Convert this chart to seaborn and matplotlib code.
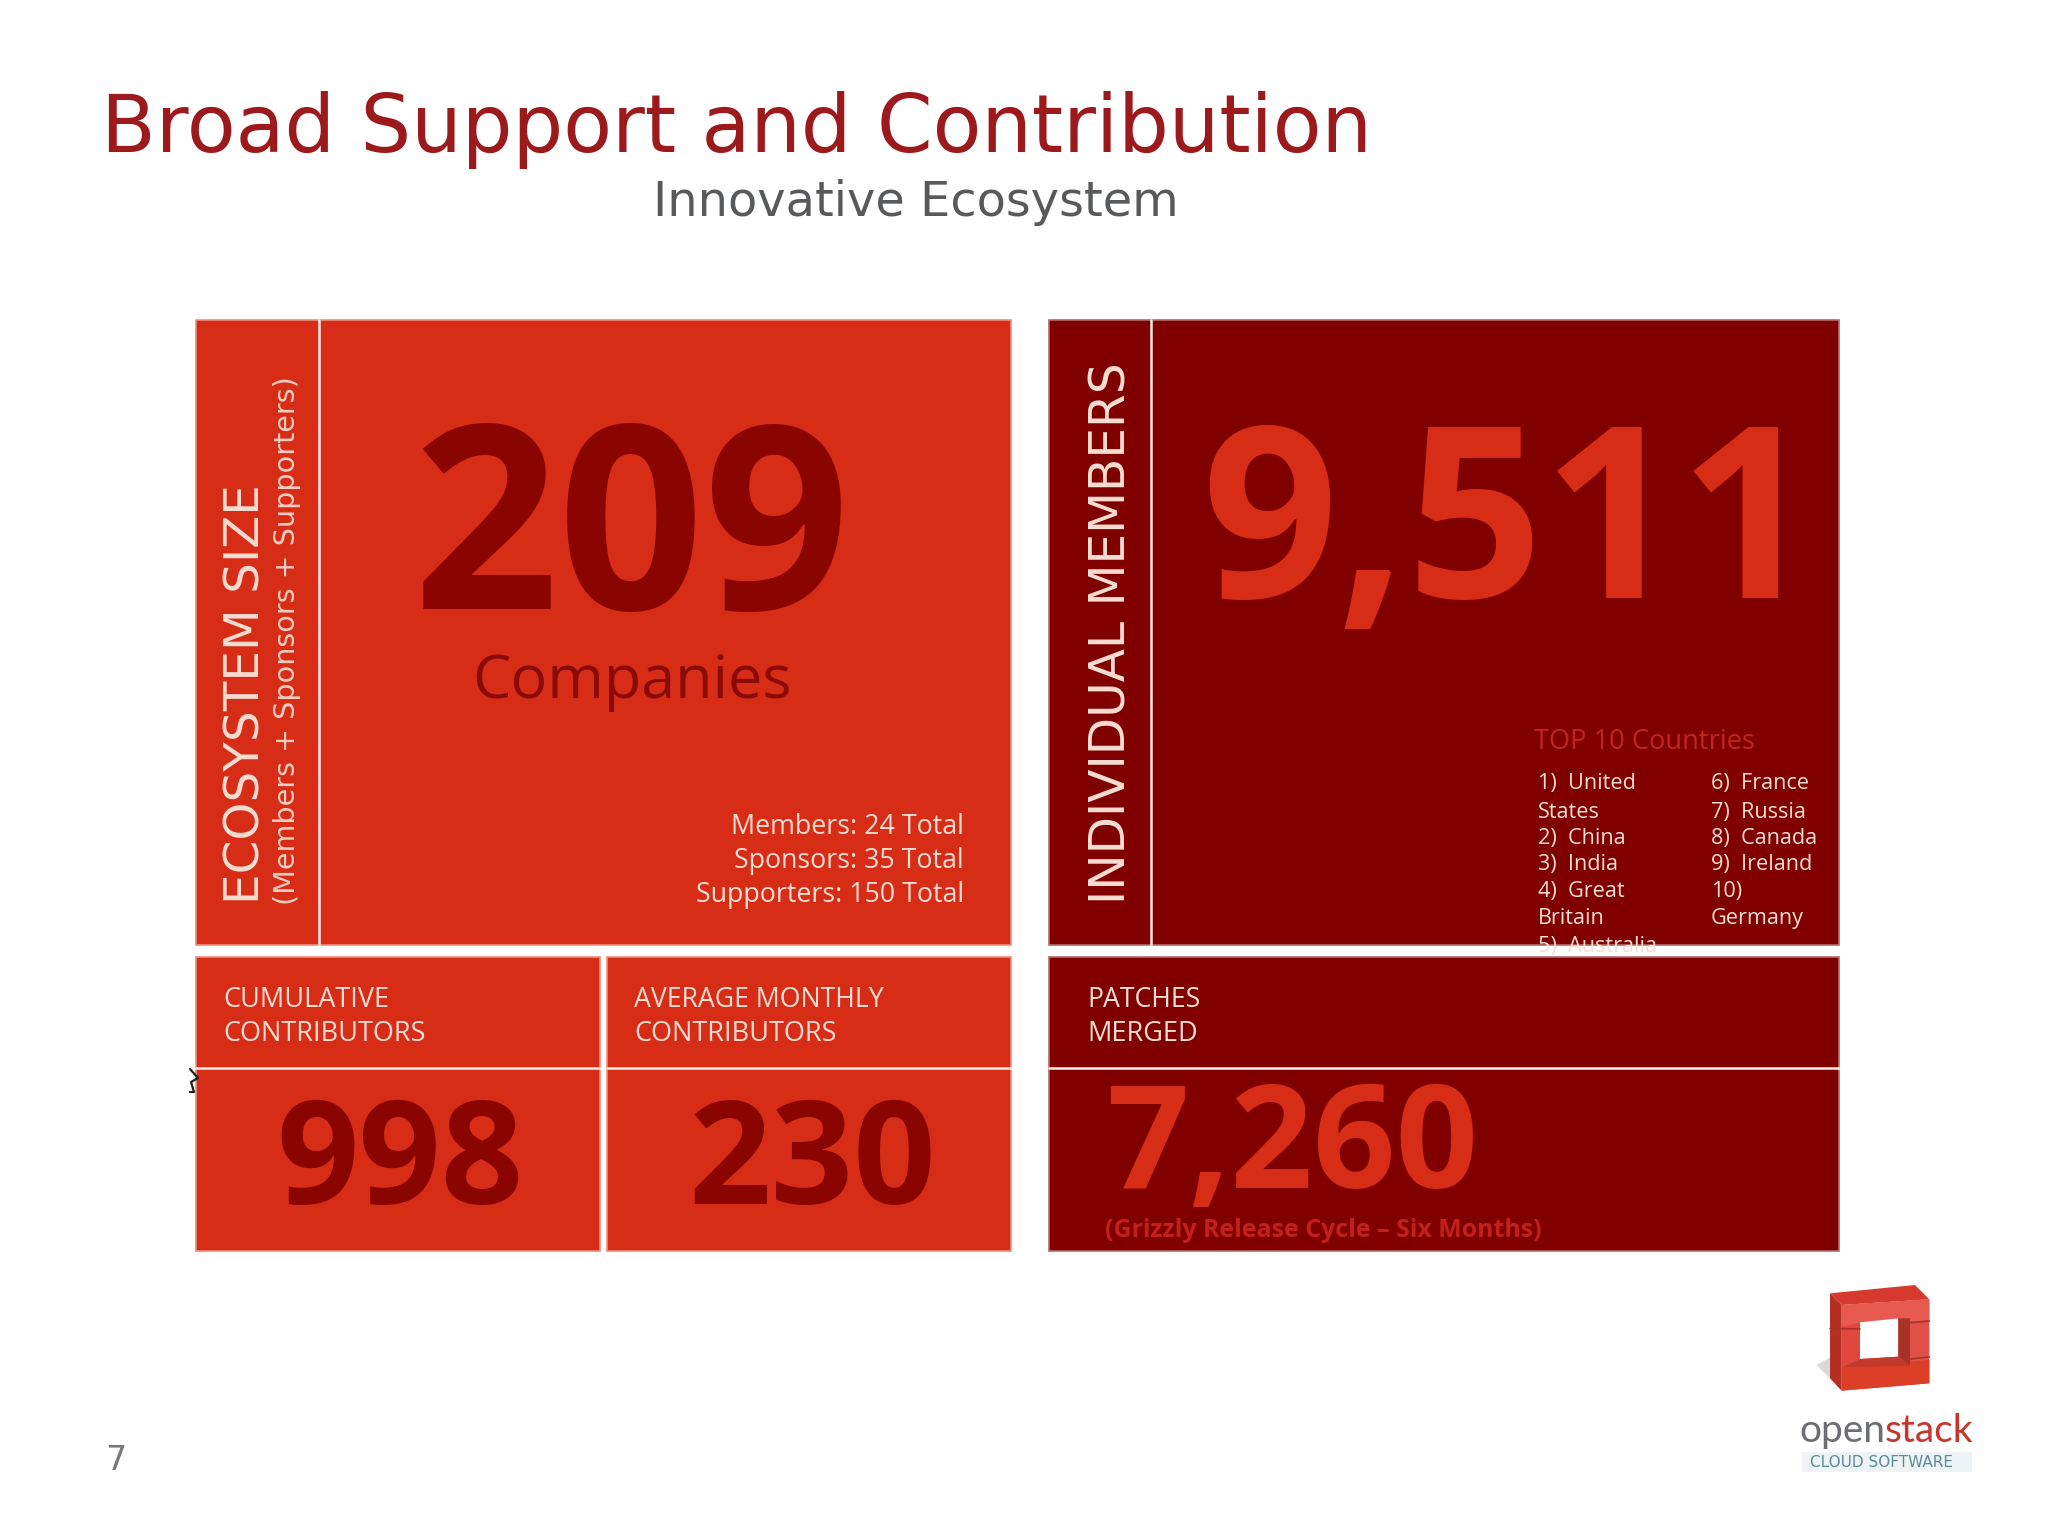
import matplotlib
matplotlib.use("Agg")
import matplotlib.pyplot as plt
from matplotlib.patches import Polygon, Rectangle
import seaborn as sns

# text from the slide
title = "Broad Support and Contribution"
subtitle = "Innovative Ecosystem"
page_no = "7"

companies = 209
members_total = 9511
cumulative = 998
avg_monthly = 230
patches_merged = 7260

tier_names = ["Members", "Sponsors", "Supporters"]
tier_counts = [24, 35, 150]

countries_left = ["1)  United", "States", "2)  China", "3)  India", "4)  Great", "Britain", "5)  Australia"]
countries_right = ["6)  France", "7)  Russia", "8)  Canada", "9)  Ireland", "10)", "Germany"]

sns.set_theme(style="white", rc={"axes.facecolor": "white", "figure.facecolor": "white"})

RED = "#d72c16"
DARK = "#800000"
PALE = "#f7ddd2"
SANS = "DejaVu Sans"
BODY = "Open Sans"

fig = plt.figure(figsize=(20.48, 15.36), dpi=100)
ax = fig.add_axes([0, 0, 1, 1])
ax.set_xlim(0, 2048)
ax.set_ylim(1536, 0)
ax.axis("off")


def box(x0, x1, y0, y1, color, edge):
    r = Rectangle((x0, y0), x1 - x0, y1 - y0, facecolor=color, edgecolor=edge, linewidth=1.2, zorder=1)
    ax.add_patch(r)
    return r


def put(x, y, s, size, color, ha="left", family=BODY, weight="normal", rot=0, clip=None):
    t = ax.text(x, y, s, fontsize=size, color=color, ha=ha, va="baseline", family=family,
                fontweight=weight, rotation=rot, rotation_mode="anchor", zorder=3)
    if clip is not None:
        t.set_clip_path(clip)
    return t


# panels
box(196, 1011, 320, 945, RED, "#ee8f7c")
ind_box = box(1049, 1839, 320, 945, DARK, "#b46a6a")
box(196, 600, 957, 1251, RED, "#ee8f7c")
box(607, 1011, 957, 1251, RED, "#ee8f7c")
box(1049, 1839, 957, 1251, DARK, "#b46a6a")

# thin white dividers
ax.plot([319, 319], [320, 945], color="#fbeee8", lw=1.8, zorder=2)
ax.plot([1151, 1151], [320, 945], color="#fbeee8", lw=1.8, zorder=2)
ax.plot([196, 600], [1068, 1068], color="#fbeee8", lw=1.8, zorder=2)
ax.plot([607, 1011], [1068, 1068], color="#fbeee8", lw=1.8, zorder=2)
ax.plot([1049, 1839], [1068, 1068], color="#fbeee8", lw=1.8, zorder=2)

# headings
put(101, 152, title, 57.5, "#9c1a1c", family=SANS)
put(653, 216, subtitle, 34.5, "#58595b", family=SANS)
put(105, 1470, page_no, 24, "#77787b", family=SANS)

# ecosystem panel
put(260, 904, "ECOSYSTEM SIZE", 34.8, PALE, family=SANS, rot=90)
put(295, 905, "(Members + Sponsors + Supporters)", 20.6, "#f6cdbf", family=SANS, rot=90)
put(631, 609, str(companies), 184, "#8a0500", ha="center", weight="bold")
put(632, 698, "Companies", 44, "#8a0a06", ha="center")
for yy, name, n in zip([834, 868, 902], tier_names, tier_counts):
    put(964, yy, f"{name}: {n} Total", 19.3, PALE, ha="right")

# individual members panel
put(1126, 904, "INDIVIDUAL MEMBERS", 35, PALE, family=SANS, rot=90)
put(1509, 598, f"{members_total:,}", 172, RED, ha="center", weight="bold")
put(1534, 749, "TOP 10 Countries", 19.6, "#c0261c")
for yy, s in zip([789, 818, 844, 870, 897, 924, 952], countries_left):
    put(1538, yy, s, 15.6, PALE, clip=ind_box)
for yy, s in zip([789, 818, 844, 870, 897, 924], countries_right):
    put(1711, yy, s, 15.6, PALE)

# lower row
put(223, 1007, "CUMULATIVE", 19.5, PALE)
put(223, 1041, "CONTRIBUTORS", 19.5, PALE)
put(634, 1007, "AVERAGE MONTHLY", 19.2, PALE)
put(634, 1041, "CONTRIBUTORS", 19.5, PALE)
put(1087, 1007, "PATCHES", 19.2, PALE)
put(1087, 1041, "MERGED", 19.5, PALE)
put(400, 1204, str(cumulative), 104, "#8a0500", ha="center", weight="bold")
put(812, 1204, str(avg_monthly), 104, "#8a0500", ha="center", weight="bold")
put(1292, 1188, f"{patches_merged:,}", 104, RED, ha="center", weight="bold")
put(1105, 1237, "(Grizzly Release Cycle \u2013 Six Months)", 17.9, "#c2201a", weight="bold")

# stray cursor mark on the slide
ax.plot([190, 198, 191, 194, 190], [1069, 1078, 1082, 1092, 1092], color="#222222", lw=1.6, zorder=4)


# logo, drawn in pixels of the slide
def lp(pts):
    return [(1760 + a / 3, 1260 + b / 3) for a, b in pts]


shapes = [
    ([(170, 315), (215, 290), (215, 355), (245, 392)], "#d9d9d9"),
    ([(210, 100), (465, 75), (508, 118), (245, 135)], "#d63a2f"),
    ([(210, 100), (245, 135), (245, 392), (210, 355)], "#b53024"),
    ([(245, 135), (508, 118), (508, 370), (245, 392)], "#e2504a"),
    ([(245, 135), (508, 118), (508, 180), (245, 200)], "#e85a50"),
    ([(245, 322), (508, 300), (508, 370), (245, 392)], "#dc3e28"),
    ([(300, 187), (415, 175), (415, 290), (300, 297)], "#ffffff"),
    ([(415, 175), (450, 175), (450, 317), (415, 290)], "#a93226"),
    ([(300, 297), (415, 290), (450, 317), (245, 322)], "#c23a2c"),
    ([(245, 200), (300, 187), (300, 297), (245, 322)], "#e0483e"),
]
for pts, c in shapes:
    ax.add_patch(Polygon(lp(pts), closed=True, facecolor=c, edgecolor="none", zorder=2))
for seg in [[(210, 205), (300, 207)], [(450, 188), (508, 183)], [(450, 297), (508, 291)]]:
    xs, ys = zip(*lp(seg))
    ax.plot(xs, ys, color="#a93226", lw=1.2, zorder=2)
ax.add_patch(Rectangle((1802, 1452), 170, 20, facecolor="#eef4f6", edgecolor="none", zorder=1))
put(1799, 1442, "open", 28, "#6d6e71", family="Lato")
put(1885, 1442, "stack", 28, "#c8352b", family="Lato")
put(1882, 1467, "CLOUD SOFTWARE", 11, "#5d8a98", ha="center", family=SANS)

fig.savefig("out.png", dpi=100)
